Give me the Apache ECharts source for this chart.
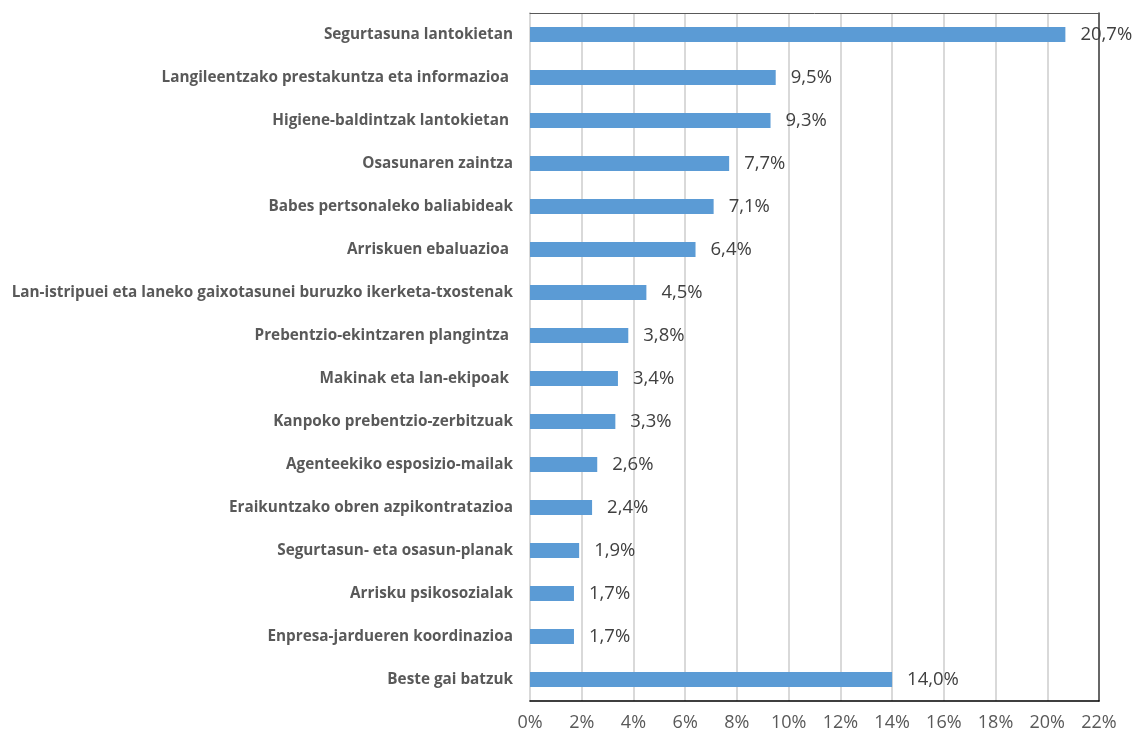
<!DOCTYPE html>
<html>
<head>
<meta charset="utf-8">
<script src="https://cdn.jsdelivr.net/npm/echarts@6/dist/echarts.min.js"></script>
<style>
  html, body { margin: 0; padding: 0; background: #fff; }
  #chart { width: 1137px; height: 737px; }
</style>
</head>
<body>
<div id="chart"></div>
<script>
  // gaiak, goitik behera
  var categories = [
    'Segurtasuna lantokietan',
    'Langileentzako prestakuntza eta informazioa ',
    'Higiene-baldintzak lantokietan ',
    'Osasunaren zaintza',
    'Babes pertsonaleko baliabideak',
    'Arriskuen ebaluazioa ',
    'Lan-istripuei eta laneko gaixotasunei buruzko ikerketa-txostenak',
    'Prebentzio-ekintzaren plangintza ',
    'Makinak eta lan-ekipoak ',
    'Kanpoko prebentzio-zerbitzuak',
    'Agenteekiko esposizio-mailak',
    'Eraikuntzako obren azpikontratazioa',
    'Segurtasun- eta osasun-planak',
    'Arrisku psikosozialak',
    'Enpresa-jardueren koordinazioa',
    'Beste gai batzuk'
  ]
  var values = [20.7, 9.5, 9.3, 7.7, 7.1, 6.4, 4.5, 3.8, 3.4, 3.3, 2.6, 2.4, 1.9, 1.7, 1.7, 14.0]
  var xTicks = { min: 0, max: 22, interval: 2 }

  var font = '"Open Sans", "Liberation Sans", sans-serif'
  var pct = function (v) { return v.toFixed(1).replace('.', ',') + '%' }

  var myChart = echarts.init(document.getElementById('chart'))
  myChart.setOption({
    animation: false,
    grid: {
      left: 530,
      right: 38,
      top: 13,
      bottom: 36
    },
    xAxis: [{
      type: 'value',
      min: xTicks.min,
      max: xTicks.max,
      interval: xTicks.interval,
      axisLine: { show: true, lineStyle: { color: '#000', width: 1.5 } },
      axisTick: { show: false },
      splitLine: { show: true, lineStyle: { color: '#d9d9d9', width: 2 } },
      axisLabel: {
        color: '#595959',
        fontFamily: font,
        fontSize: 18,
        margin: 13,
        formatter: function (v) { return v + '%' }
      }
    }, {
      // kanpoko markoa, goian
      type: 'value',
      position: 'top',
      min: xTicks.min,
      max: xTicks.max,
      axisLine: { show: true, onZero: false, lineStyle: { color: '#595959', width: 1 } },
      axisTick: { show: false },
      axisLabel: { show: false },
      splitLine: { show: false }
    }],
    yAxis: [{
      type: 'category',
      inverse: true,
      data: categories,
      axisLine: { show: true, lineStyle: { color: '#d9d9d9', width: 2 } },
      axisTick: { show: false },
      axisLabel: {
        color: '#595959',
        fontFamily: font,
        fontWeight: 'bold',
        fontSize: 15.3,
        margin: 17
      }
    }, {
      // kanpoko markoa, eskuinean
      type: 'value',
      position: 'right',
      axisLine: { show: true, onZero: false, lineStyle: { color: '#404040', width: 1.5 } },
      axisTick: { show: false },
      axisLabel: { show: false },
      splitLine: { show: false }
    }],
    series: [{
      type: 'bar',
      data: values,
      barWidth: 15,
      itemStyle: { color: '#5b9bd5' },
      label: {
        show: true,
        position: 'right',
        distance: 15,
        color: '#404040',
        fontFamily: font,
        fontSize: 18.5,
        formatter: function (p) { return pct(p.value) }
      }
    }]
  })
</script>
</body>
</html>
